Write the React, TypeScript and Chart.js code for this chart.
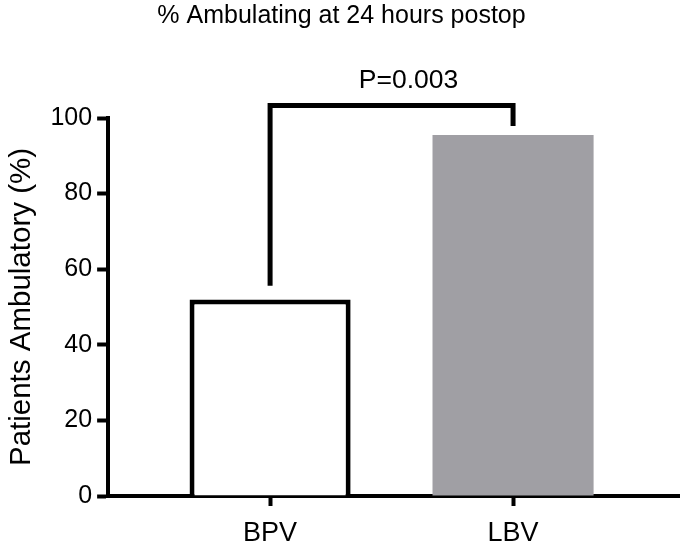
import React, { useEffect, useRef } from "react";
import { Chart, registerables } from "chart.js";

Chart.register(...registerables);

const categories = ["BPV", "LBV"];
const categoryPositions = [1, 2];
const percentAmbulatory = [52, 95.5];
const barFill = ["#ffffff", "#a09fa4"];
const barBorder = ["#000000", "#a09fa4"];
const barBorderWidth = [5, 0];
const bracketX = [1, 1, 2, 2];
const bracketY = [55.6, 103.3, 103.3, 97.9];
const pValueText = "P=0.003";
const pValueX = 1.57;
const pValueY = 110;
const yTicks = [0, 20, 40, 60, 80, 100];

const FONT = "'Liberation Sans', Arial, Helvetica, sans-serif";

const pLabelPlugin = {
  id: "pLabel",
  afterDatasetsDraw(chart: any) {
    const { ctx, scales } = chart;
    const x = scales.x.getPixelForValue(pValueX);
    const y = scales.y.getPixelForValue(pValueY);
    ctx.save();
    ctx.font = `26.5px ${FONT}`;
    ctx.fillStyle = "#000";
    ctx.textAlign = "center";
    ctx.textBaseline = "middle";
    ctx.fillText(pValueText, x, y);
    ctx.restore();
  },
};

export default function App() {
  const ref = useRef<HTMLCanvasElement>(null);
  useEffect(() => {
    if (!ref.current) return;
    const chart = new Chart(ref.current, {
      type: "bar",
      data: {
        datasets: [
          {
            type: "bar",
            data: categoryPositions.map((x, i) => ({ x, y: percentAmbulatory[i] })),
            backgroundColor: barFill,
            borderColor: barBorder,
            borderWidth: barBorderWidth,
            borderSkipped: "bottom",
            barPercentage: 1,
            categoryPercentage: 0.663,
          } as any,
          {
            type: "line",
            data: bracketX.map((x, i) => ({ x, y: bracketY[i] })),
            borderColor: "#000",
            borderWidth: 5,
            pointRadius: 0,
            fill: false,
            tension: 0,
            clip: false,
            borderJoinStyle: "miter",
            borderCapStyle: "butt",
          } as any,
        ],
      },
      options: {
        responsive: false,
        animation: false,
        layout: { padding: { left: 4, right: 1, top: 0, bottom: -17 } },
        plugins: {
          legend: { display: false },
          tooltip: { enabled: false },
          title: {
            display: true,
            text: "% Ambulating at 24 hours postop",
            color: "#000",
            font: { family: FONT, size: 25, weight: "normal" },
            padding: { top: 1, bottom: 87 },
          },
        },
        scales: {
          x: {
            type: "linear",
            min: 1 / 3,
            max: 2.683,
            offset: false,
            afterBuildTicks: (scale: any) => {
              scale.ticks = categoryPositions.map((v) => ({ value: v }));
            },
            ticks: {
              color: "#000",
              font: { family: FONT, size: 27, lineHeight: 1 },
              padding: 14,
              autoSkip: false,
              maxRotation: 0,
              callback: (v: any) => {
                const i = categoryPositions.indexOf(Number(v));
                return i >= 0 ? categories[i] : "";
              },
            },
            grid: {
              offset: false,
              drawOnChartArea: false,
              drawTicks: true,
              tickLength: 10,
              tickWidth: 4,
              color: "#000",
            },
            border: { display: true, color: "#000", width: 4 },
          },
          y: {
            min: 0,
            max: 100,
            afterBuildTicks: (scale: any) => {
              scale.ticks = yTicks.map((v) => ({ value: v }));
            },
            ticks: {
              color: "#000",
              font: { family: FONT, size: 25 },
              padding: 5,
            },
            grid: {
              drawOnChartArea: false,
              drawTicks: true,
              tickLength: 11,
              tickWidth: 4,
              color: "#000",
            },
            border: { display: true, color: "#000", width: 4 },
            title: {
              display: true,
              text: "Patients Ambulatory (%)",
              color: "#000",
              font: { family: FONT, size: 29.5 },
              padding: { top: 0, bottom: 6 },
            },
          },
        },
      } as any,
      plugins: [pLabelPlugin],
    });
    return () => chart.destroy();
  }, []);
  return (
    <div style={{ position: "fixed", left: 0, top: 0, width: 680, height: 544, background: "#fff" }}>
      <canvas ref={ref} width={680} height={544} style={{ display: "block" }} />
    </div>
  );
}
